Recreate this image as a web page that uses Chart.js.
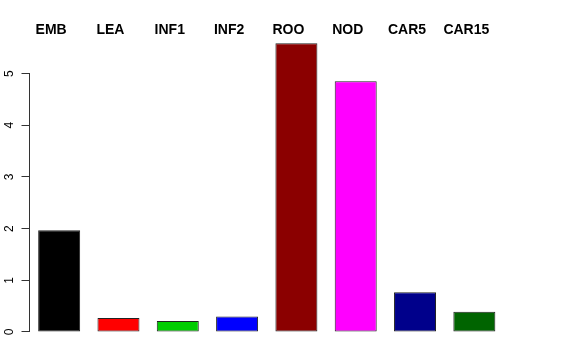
<!DOCTYPE html>
<html>
<head>
<meta charset="utf-8">
<script src="https://cdn.jsdelivr.net/npm/chart.js@4"></script>
<style>
  body { margin: 0; background: #fff; }
  #wrap { width: 576px; height: 360px; }
</style>
</head>
<body>
<div id="wrap"><canvas id="barChart" width="576" height="360"></canvas></div>
<script>
const categories = ["EMB", "LEA", "INF1", "INF2", "ROO", "NOD", "CAR5", "CAR15"];
const values = [1.97, 0.27, 0.21, 0.30, 5.59, 4.85, 0.77, 0.39];
const barColors = ["#000000", "#FF0000", "#00CD00", "#0000FF", "#8B0000", "#FF00FF", "#00008B", "#006400"];
const yTicks = [0, 1, 2, 3, 4, 5];

// R style axis line, only from first to last tick
const axisLine = {
    id: "axisLine",
    afterDraw(chart) {
        const y = chart.scales.y;
        const ctx = chart.ctx;
        const x = chart.chartArea.left;
        ctx.save();
        ctx.strokeStyle = "#333";
        ctx.lineWidth = 1;
        ctx.beginPath();
        ctx.moveTo(x, y.getPixelForValue(yTicks[0]));
        ctx.lineTo(x, y.getPixelForValue(yTicks[yTicks.length - 1]));
        ctx.stroke();
        ctx.restore();
    },
};

const ctx = document.getElementById("barChart").getContext("2d");
new Chart(ctx, {
    type: "bar",
    data: {
        labels: categories,
        datasets: [
            {
                data: values,
                backgroundColor: barColors,
                borderColor: "#222",
                borderWidth: 1,
                borderSkipped: false,
                barPercentage: 0.708,
                categoryPercentage: 1,
            },
        ],
    },
    options: {
        responsive: false,
        animation: false,
        layout: { padding: { left: 0, right: 72, top: 0, bottom: 16.5 } },
        plugins: { legend: { display: false }, tooltip: { enabled: false } },
        scales: {
            x: {
                position: "top",
                grid: { display: false, drawTicks: false },
                border: { display: false },
                ticks: {
                    color: "#000",
                    font: { family: "Liberation Sans, Arial, sans-serif", size: 14, weight: "bold" },
                    padding: -1,
                    labelOffset: -8,
                    maxRotation: 0,
                },
                afterFit: (scale) => { scale.height = 38; },
            },
            y: {
                min: -0.2233,
                max: 5.6893,
                grid: { drawOnChartArea: false, drawTicks: true, tickLength: 8, color: "#333", offset: false },
                border: { display: false },
                afterBuildTicks: (scale) => { scale.ticks = yTicks.map((v) => ({ value: v })); },
                ticks: {
                    color: "#000",
                    font: { family: "Liberation Sans, Arial, sans-serif", size: 12 },
                    minRotation: 90,
                    maxRotation: 90,
                    crossAlign: "center",
                    padding: 8,
                },
                afterFit: (scale) => {
                    scale.width = 29.5;
                    scale.paddingTop = 0;
                    scale.paddingBottom = 0;
                },
            },
        },
    },
    plugins: [axisLine],
});
</script>
</body>
</html>
